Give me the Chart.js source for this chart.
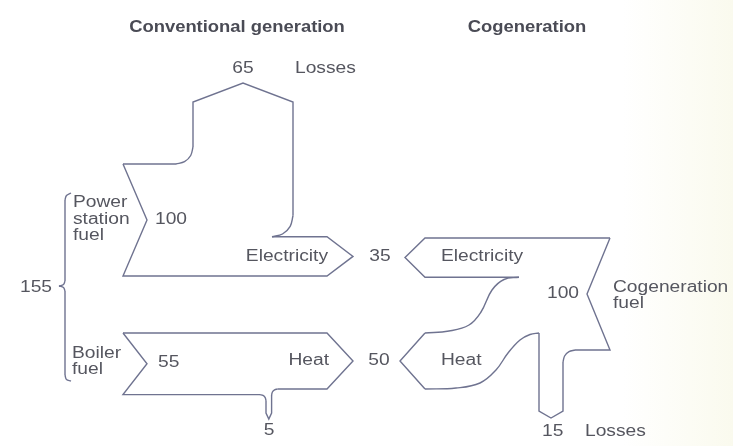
<!DOCTYPE html>
<html>
<head>
<meta charset="utf-8">
<script src="https://cdn.jsdelivr.net/npm/chart.js@4.4.0/dist/chart.umd.min.js"></script>
<style>
  html, body { margin: 0; padding: 0; background: #fff; }
  #wrap { width: 733px; height: 446px; }
</style>
</head>
<body>
<div id="wrap"><canvas id="graficoCogeracao" width="733" height="446"></canvas></div>
<script>
// energy flows (same units for both panels)
const conventionalNames = ['Power station fuel', 'Boiler fuel', 'Electricity', 'Heat', 'Losses', 'Losses'];
const conventionalValues = [100, 55, 35, 50, 65, 5];
const cogenNames = ['Cogeneration fuel', 'Electricity', 'Heat', 'Losses'];
const cogenValues = [100, 35, 50, 15];
const panelTitles = ['Conventional generation', 'Cogeneration'];

document.addEventListener("DOMContentLoaded", () => {
    const K = 1.12;              // px per energy unit for the band widths
    const LINE = '#6f7390';
    const TEXT = '#55565f';

    const [cPower, cBoiler, cElec, cHeat, cLoss, cBoilerLoss] = conventionalValues;
    const [gFuel, gElec, gHeat, gLoss] = cogenValues;
    const totalFuel = cPower + cBoiler;

    const datasets = [];
    const pts = arr => arr.map(p => ({ x: p[0], y: p[1] }));
    const seg = (arr, tension) => datasets.push({
        data: pts(arr), showLine: true, pointRadius: 0, borderColor: LINE,
        borderWidth: 1.4, tension: tension || 0, fill: false
    });
    // rounded corner from a, around corner c, to b (quarter circle)
    const corner = (a, c, b) => {
        const ctr = [a[0] + b[0] - c[0], a[1] + b[1] - c[1]];
        const p = [a];
        [1 / 3, 2 / 3].forEach(t => {
            const ang = t * Math.PI / 2;
            const ua = [a[0] - ctr[0], a[1] - ctr[1]], ub = [b[0] - ctr[0], b[1] - ctr[1]];
            p.push([ctr[0] + ua[0] * Math.cos(ang) + ub[0] * Math.sin(ang),
                    ctr[1] + ua[1] * Math.cos(ang) + ub[1] * Math.sin(ang)]);
        });
        p.push(b);
        seg(p, 0.35);
    };

    // --- Conventional: power station ---
    const tailX = 123, notch = 24;
    const pTop = 164, pBot = pTop + cPower * K, eTop = pBot - cElec * K;
    const shoulder = 327, tipLen = 26;
    const lossL = 193, lossR = 293, lossTop = 102, r1 = 17, r2 = 21;
    seg([[tailX, pTop], [lossL - r1, pTop]]);
    corner([lossL - r1, pTop], [lossL, pTop], [lossL, pTop - r1]);
    seg([[lossL, pTop - r1], [lossL, lossTop], [(lossL + lossR) / 2, lossTop - 19], [lossR, lossTop], [lossR, eTop - r2]]);
    corner([lossR, eTop - r2], [lossR, eTop], [lossR - r2, eTop]);
    seg([[lossR - r2, eTop], [shoulder, eTop], [shoulder + tipLen, (eTop + pBot) / 2], [shoulder, pBot],
         [tailX, pBot], [tailX + notch, (pTop + pBot) / 2], [tailX, pTop]]);

    // --- Conventional: boiler ---
    const bTop = 333, bBot = bTop + cBoiler * K, hBot = bTop + cHeat * K;
    const brL = 266, brR = brL + cBoilerLoss * K, brEnd = 413, r3 = 6;
    seg([[tailX, bTop], [shoulder, bTop], [shoulder + tipLen, (bTop + hBot) / 2], [shoulder, hBot], [brR + r3, hBot]]);
    corner([brR + r3, hBot], [brR, hBot], [brR, hBot + r3]);
    seg([[brR, hBot + r3], [brR, brEnd], [(brL + brR) / 2, brEnd + 6], [brL, brEnd], [brL, bBot + r3]]);
    corner([brL, bBot + r3], [brL, bBot], [brL - r3, bBot]);
    seg([[brL - r3, bBot], [tailX, bBot], [tailX + notch, (bTop + bBot) / 2], [tailX, bTop]]);

    // brace grouping both fuels
    const bx = 65;
    seg([[71, 193], [66.5, 195.5], [bx, 200]], 0.4);
    seg([[bx, 200], [bx, 281]]);
    seg([[bx, 281], [63.5, 284.5], [59, 286]], 0.4);
    seg([[59, 286], [63.5, 287.5], [bx, 291]], 0.4);
    seg([[bx, 291], [bx, 375]]);
    seg([[bx, 375], [66.5, 379.5], [71, 381]], 0.4);

    // --- Cogeneration ---
    const gR = 610, gTop = 238, gBot = gTop + gFuel * K;
    const geBot = gTop + gElec * K, gSh = 425;
    const ghTop = 333, ghBot = ghTop + gHeat * K;
    const lL = 539, lR = 563, lEnd = 411, r4 = 12;
    seg([[gR, gTop], [gSh, gTop], [gSh - 20, (gTop + geBot) / 2], [gSh, geBot], [519, geBot]]);
    seg([[519, geBot], [504, 279.5], [492, 290], [481, 312], [469, 325], [449, 331], [gSh, ghTop]], 0.4);
    seg([[gSh, ghTop], [gSh - 25, (ghTop + ghBot) / 2], [gSh, ghBot]]);
    seg([[gSh, ghBot], [456, 388], [480, 383], [496, 370], [508, 353], [520, 340], [530, 334.5], [lL, ghTop]], 0.4);
    seg([[lL, ghTop], [lL, lEnd], [(lL + lR) / 2, lEnd + 7], [lR, lEnd], [lR, gBot + r4]]);
    corner([lR, gBot + r4], [lR, gBot], [lR + r4, gBot]);
    seg([[lR + r4, gBot], [gR, gBot], [gR - 23, (gTop + gBot) / 2], [gR, gTop]]);

    // labels (text from the arrays above)
    const REG = '16px "Liberation Sans", Arial, sans-serif';
    const BOLD = 'bold 16px "Liberation Sans", Arial, sans-serif';
    const labels = [
        [panelTitles[0], 237, 28, 'center', BOLD, 1.15, '#4a4b55'],
        [panelTitles[1], 527, 28, 'center', BOLD, 1.15, '#4a4b55'],
        [String(cLoss), 243, 69, 'center'],
        [conventionalNames[4], 295, 69, 'left'],
        ['Power', 73, 203, 'left'], ['station', 73, 220, 'left'], ['fuel', 73, 236, 'left'],
        [String(cPower), 155, 220, 'left'],
        [conventionalNames[2], 328, 257, 'right'],
        [String(cElec), 380, 257, 'center'],
        [String(totalFuel), 20, 288, 'left'],
        ['Boiler', 72, 354, 'left'], ['fuel', 72, 370, 'left'],
        [String(cBoiler), 158, 363, 'left'],
        [conventionalNames[3], 329, 361, 'right'],
        [String(cHeat), 379, 361, 'center'],
        [String(cBoilerLoss), 269, 431, 'center'],
        [cogenNames[1], 441, 257, 'left'],
        [String(gFuel), 547, 294, 'left'],
        ['Cogeneration', 613, 288, 'left'], ['fuel', 613, 304, 'left'],
        [cogenNames[2], 441, 361, 'left'],
        [String(gLoss), 542, 432, 'left'],
        [cogenNames[3], 585, 432, 'left']
    ];

    const paper = {
        id: 'paper',
        beforeDraw(chart) {
            const ctx = chart.ctx;
            const g = ctx.createLinearGradient(0, 0, chart.width, 0);
            g.addColorStop(0, '#ffffff');
            g.addColorStop(0.85, '#ffffff');
            g.addColorStop(1, '#fafaee');
            ctx.save();
            ctx.fillStyle = g;
            ctx.fillRect(0, 0, chart.width, chart.height);
            ctx.restore();
        }
    };
    const texts = {
        id: 'texts',
        afterDatasetsDraw(chart) {
            const ctx = chart.ctx;
            const xs = chart.scales.x, ys = chart.scales.y;
            labels.forEach(l => {
                ctx.save();
                ctx.translate(xs.getPixelForValue(l[1]), ys.getPixelForValue(l[2]));
                ctx.scale(l[5] || 1.2, 1);
                ctx.font = l[4] || REG;
                ctx.fillStyle = l[6] || TEXT;
                ctx.textAlign = l[3];
                ctx.textBaseline = 'middle';
                ctx.fillText(l[0], 0, 0);
                ctx.restore();
            });
        }
    };

    new Chart(document.getElementById('graficoCogeracao'), {
        type: 'scatter',
        data: { datasets },
        options: {
            responsive: false,
            animation: false,
            layout: { padding: 0 },
            scales: {
                x: { type: 'linear', min: 0, max: 733, display: false },
                y: { type: 'linear', min: 0, max: 446, reverse: true, display: false }
            },
            plugins: { legend: { display: false }, tooltip: { enabled: false } }
        },
        plugins: [paper, texts]
    });
});
</script>
</body>
</html>
